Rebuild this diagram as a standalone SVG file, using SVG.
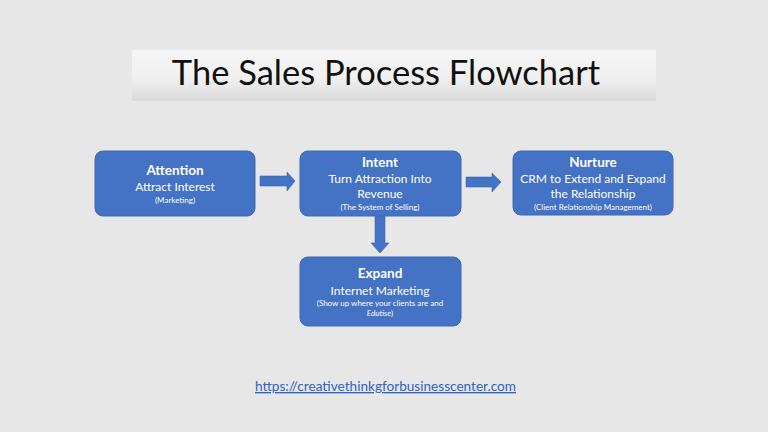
<svg xmlns="http://www.w3.org/2000/svg" width="768" height="432" viewBox="0 0 768 432">
<defs>
<linearGradient id="tg" x1="0" y1="0" x2="0" y2="1">
<stop offset="0" stop-color="#f6f6f6"/>
<stop offset="0.55" stop-color="#f0f0f0"/>
<stop offset="1" stop-color="#d9d9d9"/>
</linearGradient>
<style>
text{font-family:Lato,"Open Sans","Liberation Sans",sans-serif;text-anchor:middle;fill:#ffffff}
.box{fill:#4472c4;stroke:#3d68b5;stroke-width:1}
.h{font-weight:bold;font-size:13.5px}
.m{font-size:12px}
.s{font-size:8px}
.arr{fill:#4472c4;stroke:#3d68b5;stroke-width:0.6}
</style>
</defs>
<rect width="768" height="432" fill="#e7e7e7"/>
<g id="title">
<rect x="132" y="50" width="524" height="51" fill="url(#tg)"/>
<text x="386" y="85" style="font-size:34.5px;fill:#111111">The Sales Process Flowchart</text>
</g>
<g id="connectors">
<polygon class="arr" points="260,176 287,176 287,172 295,181 287,191 287,186 260,186"/>
<polygon class="arr" points="466,177 492,177 492,173 501,182 492,192 492,187 466,187"/>
<polygon class="arr" points="375,216 385,216 385,243 389,243 380,253 371,243 375,243"/>
</g>
<g id="attention">
<rect class="box" x="95" y="151" width="160" height="65" rx="8"/>
<text class="h" x="175" y="175">Attention</text>
<text class="m" x="175" y="191">Attract Interest</text>
<text class="s" x="175" y="203">(Marketing)</text>
</g>
<g id="intent">
<rect class="box" x="300" y="151" width="161" height="65" rx="8"/>
<text class="h" x="380" y="167">Intent</text>
<text class="m" x="380" y="183">Turn Attraction Into</text>
<text class="m" x="380" y="198">Revenue</text>
<text class="s" x="380" y="210">(The System of Selling)</text>
</g>
<g id="nurture">
<rect class="box" x="513" y="151" width="160" height="64" rx="8"/>
<text class="h" x="593" y="167">Nurture</text>
<text class="m" x="593" y="183">CRM to Extend and Expand</text>
<text class="m" x="593" y="198">the Relationship</text>
<text class="s" x="593" y="210">(Client Relationship Management)</text>
</g>
<g id="expand">
<rect class="box" x="300" y="257" width="161" height="69" rx="8"/>
<text class="h" x="380" y="278">Expand</text>
<text class="m" x="380" y="295">Internet Marketing</text>
<text class="s" x="380" y="306">(Show up where your clients are and</text>
<text class="s" x="380" y="316"><tspan font-style="italic">Edutise</tspan>)</text>
</g>
<g id="url">
<text x="385.5" y="391" style="font-size:13.6px;fill:#2f63c6;text-decoration:underline">https://creativethinkgforbusinesscenter.com</text>
</g>
</svg>
